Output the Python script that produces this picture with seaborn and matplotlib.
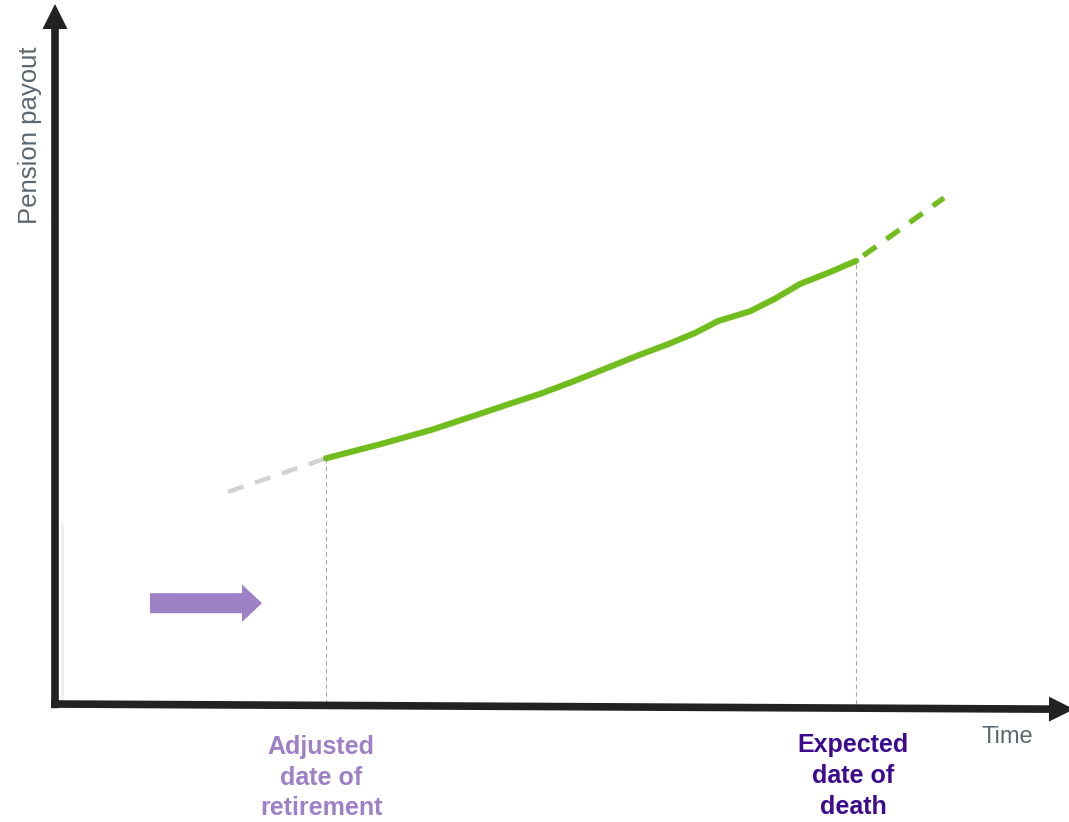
import matplotlib
matplotlib.use("Agg")
import matplotlib.pyplot as plt
import seaborn as sns

# Pension payout path between retirement and expected death
time = [27.1, 32.5, 37.5, 42.8, 45.5, 48.5, 51.5, 54.5, 58.5, 61.3,
        64.0, 66.3, 69.5, 72.0, 74.5, 77.5, 80.1]
payout = [35.1, 37.1, 39.1, 41.6, 42.9, 44.3, 45.9, 47.6, 49.9, 51.4,
          53.0, 54.7, 56.1, 57.9, 60.0, 61.7, 63.3]

# Projections before retirement and after expected death
before_time = [17.3, 27.1]
before_payout = [30.3, 35.1]
after_time = [80.1, 88.9]
after_payout = [63.3, 72.3]

retire_time = 27.1
death_time = 80.1

GREEN = "#72bd1e"
LIGHT_PURPLE = "#9d80c6"
DARK_PURPLE = "#3c0a8e"
AXIS = "#222222"
GREY_TEXT = "#5b6770"

sns.set_style("white")
plt.rcParams["font.family"] = ["Liberation Sans", "DejaVu Sans"]

fig = plt.figure(figsize=(10.69, 8.22), dpi=100)
ax = fig.add_axes([55 / 1069, (822 - 704) / 822, 1000 / 1069, 700 / 822])
ax.set_xlim(0, 100)
ax.set_ylim(0, 100)
ax.axis("off")

# Axes drawn as thick arrows
axis_style = "simple,head_length=1.8,head_width=1.8,tail_width=0.55"
ax.annotate("", xy=(0, 100), xytext=(0, -0.6),
            arrowprops=dict(arrowstyle=axis_style, color=AXIS, lw=0,
                            mutation_scale=10, shrinkA=0, shrinkB=0),
            annotation_clip=False)
ax.annotate("", xy=(101.9, -0.75), xytext=(-0.4, 0.0),
            arrowprops=dict(arrowstyle=axis_style, color=AXIS, lw=0,
                            mutation_scale=10, shrinkA=0, shrinkB=0),
            annotation_clip=False)

# faint guide next to the vertical axis
ax.plot([0.7, 0.7], [0, 26], color="#eeeeee", lw=2, clip_on=False,
        solid_capstyle="butt")

# Dashed drop lines to the time axis
ax.plot([retire_time, retire_time], [0, payout[0]], color="#a6a6a6",
        lw=0.8, linestyle=(0, (4, 3)), clip_on=False)
ax.plot([death_time, death_time], [0, payout[-1]], color="#a6a6a6",
        lw=0.8, linestyle=(0, (4, 3)), clip_on=False)

# Projections
ax.plot(before_time, before_payout, color="#d2d2d2", lw=3.2,
        linestyle=(0, (3.7, 2.7)), dash_capstyle="butt")
ax.plot(after_time, after_payout, color=GREEN, lw=3.8,
        linestyle=(3.7, (3.0, 2.4)), dash_capstyle="butt")

# Main payout line
sns.lineplot(x=time, y=payout, color=GREEN, lw=4.4, ax=ax, sort=False)

# Purple arrow pointing to the right
ax.annotate("", xy=(20.7, 14.4), xytext=(9.5, 14.4),
            arrowprops=dict(arrowstyle="simple,head_length=0.8,head_width=1.5,tail_width=0.8",
                            color=LIGHT_PURPLE, lw=0, mutation_scale=18,
                            shrinkA=0, shrinkB=0),
            annotation_clip=False)

# Labels
ax.text(retire_time - 0.5, -4.4, "Adjusted\ndate of\nretirement", ha="center",
        va="top", fontsize=18, fontweight="bold", color=LIGHT_PURPLE,
        linespacing=1.36, clip_on=False)
ax.text(death_time - 0.3, -4.2, "Expected\ndate of\ndeath", ha="center",
        va="top", fontsize=18, fontweight="bold", color=DARK_PURPLE,
        linespacing=1.36, clip_on=False)
ax.text(95.2, -4.7, "Time", ha="center", va="center", fontsize=17,
        color=GREY_TEXT, clip_on=False)
fig.text(30 / 1069, 1 - 135 / 822, "Pension payout", rotation=90,
         ha="center", va="center", fontsize=18.5, color=GREY_TEXT)

fig.savefig("out.png", dpi=100)
